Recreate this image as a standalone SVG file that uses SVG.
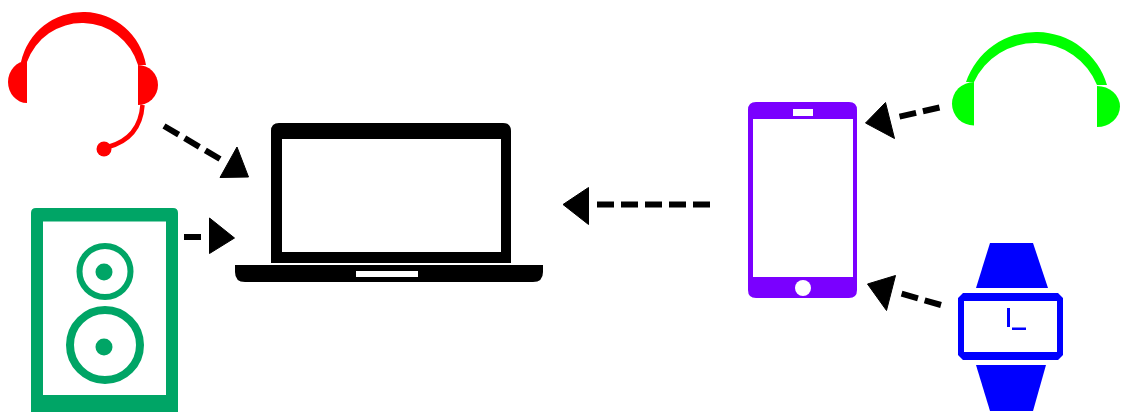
<svg xmlns="http://www.w3.org/2000/svg" width="1123" height="412" viewBox="0 0 1123 412">
<style>
.dash{fill:none;stroke:#000;stroke-width:6;stroke-dasharray:17 7}
.head{fill:#000;stroke:#000;stroke-width:1;stroke-linejoin:round}
.red{fill:#f00}.green{fill:#0f0}.sp{fill:#00a566}.ring{fill:none;stroke:#00a566}.ph{fill:#7a00ff}.bl{fill:#00f}.k{fill:#000}.w{fill:#fff}
</style>
<rect width="1123" height="412" fill="#fff"/>
<g id="headset">
<path class="red" d="M21 62A63.700 63.700 0 0 1 146 65L138 65A58.300 58.300 0 0 0 27 62Z"/>
<path class="red" d="M27 61V103A19 21 0 0 1 27 61Z"/>
<path class="red" d="M138 65A20 20 0 0 1 138 105Z"/>
<path d="M142.500 105C141 126 130 141 108 147" fill="none" stroke="#f00" stroke-width="4.500"/>
<circle class="red" cx="104" cy="149" r="7.500"/>
</g>
<g id="speaker">
<path class="sp" fill-rule="evenodd" d="M36 208H173Q178 208 178 213V412H31V213Q31 208 36 208ZM43 221.500V395H166V221.500Z"/>
<circle class="ring" cx="105" cy="271.500" r="25.500" stroke-width="6"/>
<circle class="sp" cx="104" cy="272" r="8.500"/>
<circle class="ring" cx="105" cy="345" r="35" stroke-width="8"/>
<circle class="sp" cx="104" cy="347" r="8.500"/>
</g>
<g id="laptop">
<path class="k" fill-rule="evenodd" d="M279 123H503Q511 123 511 131V263H271V131Q271 123 279 123ZM282 139V252H501V139Z"/>
<path class="k" fill-rule="evenodd" d="M235 265H543V272Q543 282 533 282H245Q235 282 235 272ZM356 271V277H418V271Z"/>
</g>
<g id="phone">
<path class="ph" fill-rule="evenodd" d="M756 102H849Q857 102 857 110V290Q857 298 849 298H756Q748 298 748 290V110Q748 102 756 102ZM753 119V277H853V119ZM793 109V116H813V109Z"/>
<circle class="w" cx="803" cy="288" r="8"/>
</g>
<g id="green-headphones">
<path class="green" d="M966 82A74 74 0 0 1 1107 85L1097 85A67 67 0 0 0 974 82Z"/>
<path class="green" d="M974 82V125.500A22 21.750 0 0 1 974 82Z"/>
<path class="green" d="M1097 86V127A23 20.500 0 0 0 1097 86Z"/>
</g>
<g id="watch">
<path class="bl" d="M990 243H1033L1048 288H976Z"/>
<path class="bl" fill-rule="evenodd" d="M963 293H1058L1063 298V355L1058 360H963L958 355V298ZM964 301V352H1057V301Z"/>
<path class="bl" d="M976 365H1046L1033 411H990Z"/>
<rect class="bl" x="1007" y="308" width="3" height="19"/>
<rect class="bl" x="1012" y="327.500" width="14" height="2.500"/>
</g>
<g id="connectors">
<path class="dash" d="M164 126L220 159"/>
<polygon class="head" points="237,147 220,177.500 248.500,177"/>
<path class="dash" d="M184 237H201"/>
<polygon class="head" points="209.500,218 234.500,238 209.500,253.500"/>
<path class="dash" d="M597 204.500H712"/>
<polygon class="head" points="563,204.500 588.500,187.500 588.500,224.500"/>
<path class="dash" d="M939.500 107.500L898 117"/>
<polygon class="head" points="865.500,123 885.500,102.500 894.500,138.500"/>
<path class="dash" d="M941 305L899.500 293"/>
<polygon class="head" points="867.500,284 895.500,275.500 886.500,310.500"/>
</g>
</svg>
